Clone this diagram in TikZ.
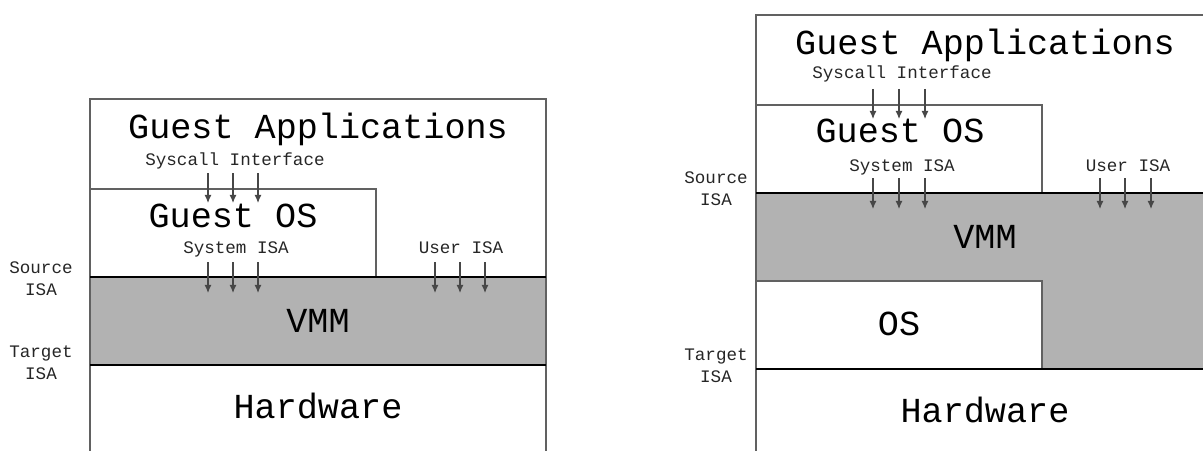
\documentclass[tikz,border=0pt]{standalone}
\usepackage{fontspec}
\setmonofont{Liberation Mono}
\usetikzlibrary{arrows.meta}

\definecolor{vmmgray}{RGB}{178,178,178}
\tikzset{
  layer/.style={draw=black!62, line width=1.6pt},
  bound/.style={draw=black, line width=2pt},
  call/.style={draw=black!72, line width=0.9pt, -{Latex[length=7pt,width=6pt]}},
  layerlabel/.style={anchor=base, inner sep=0pt, font=\ttfamily\fontsize{30}{30}\selectfont},
  ifacelabel/.style={anchor=base, inner sep=0pt, text=black!85, font=\ttfamily\fontsize{15}{15}\selectfont},
  isalabel/.style={anchor=base, inner sep=0pt, align=center, text=black!85, font=\ttfamily\fontsize{15}{18}\selectfont},
}

\begin{document}
\begin{tikzpicture}[x=0.03cm, y=-0.03cm]
                      \useasboundingbox (0,0) rectangle (1203,451);
                      \clip (0,0) rectangle (1203,451);
                      % left: hosted VMM
                      \fill[vmmgray] (90,277) rectangle (546,365);
                      \draw[layer] (90,460) -- (90,99) -- (546,99) -- (546,460);
                      \draw[layer] (90,189) -- (376,189) -- (376,277);
                      \draw[bound] (90,277) -- (546,277);
                      \draw[bound] (90,365) -- (546,365);
                      \node[layerlabel] (appsL) at (318,138.5) {Guest Applications};
                      \node[ifacelabel] (syscallL) at (235,165) {Syscall Interface};
                      \node[layerlabel] (gosL) at (233,227.5) {Guest OS};
                      \node[ifacelabel] (sysisaL) at (236,253) {System ISA};
                      \node[ifacelabel] (userisaL) at (461,253) {User ISA};
                      \node[layerlabel] (vmmL) at (318,332.5) {VMM};
                      \node[layerlabel] (hwL) at (318,418.5) {Hardware};
                      \node[isalabel] (srcL) at (41,295) {Source\\ISA};
                      \node[isalabel] (tgtL) at (41,379) {Target\\ISA};
                      \foreach \x in {208,233,258} {
                        \coordinate (scA\x) at (\x,173);
                        \coordinate (scB\x) at (\x,203);
                        \draw[call] (scA\x) -- (scB\x);
                      }
                      \foreach \x in {208,233,258,435,460,485} {
                        \coordinate (isA\x) at (\x,262);
                        \coordinate (isB\x) at (\x,293);
                        \draw[call] (isA\x) -- (isB\x);
                      }
                      % right: VMM under the host OS
                      \fill[vmmgray] (756,193) rectangle (1215,369);
                      \fill[white] (756,281) rectangle (1042,369);
                      \draw[layer] (756,460) -- (756,15) -- (1215,15);
                      \draw[layer] (756,105) -- (1042,105) -- (1042,193);
                      \draw[layer] (756,281) -- (1042,281) -- (1042,369);
                      \draw[bound] (756,193) -- (1215,193);
                      \draw[bound] (756,369) -- (1215,369);
                      \node[layerlabel] (appsR) at (985,54.5) {Guest Applications};
                      \node[ifacelabel] (syscallR) at (902,79) {Syscall Interface};
                      \node[layerlabel] (gosR) at (900,142.5) {Guest OS};
                      \node[ifacelabel] (sysisaR) at (902,171) {System ISA};
                      \node[ifacelabel] (userisaR) at (1128,171) {User ISA};
                      \node[layerlabel] (vmmR) at (985,248.5) {VMM};
                      \node[layerlabel] (osR) at (899,335.5) {OS};
                      \node[layerlabel] (hwR) at (985,422.5) {Hardware};
                      \node[isalabel] (srcR) at (716,205) {Source\\ISA};
                      \node[isalabel] (tgtR) at (716,382) {Target\\ISA};
                      \foreach \x in {873,899,925} {
                        \coordinate (scA\x) at (\x,89);
                        \coordinate (scB\x) at (\x,119);
                        \draw[call] (scA\x) -- (scB\x);
                      }
                      \foreach \x in {873,899,925,1100,1125,1151} {
                        \coordinate (isA\x) at (\x,178);
                        \coordinate (isB\x) at (\x,209);
                        \draw[call] (isA\x) -- (isB\x);
                      }
                  \end{tikzpicture}
\end{document}
